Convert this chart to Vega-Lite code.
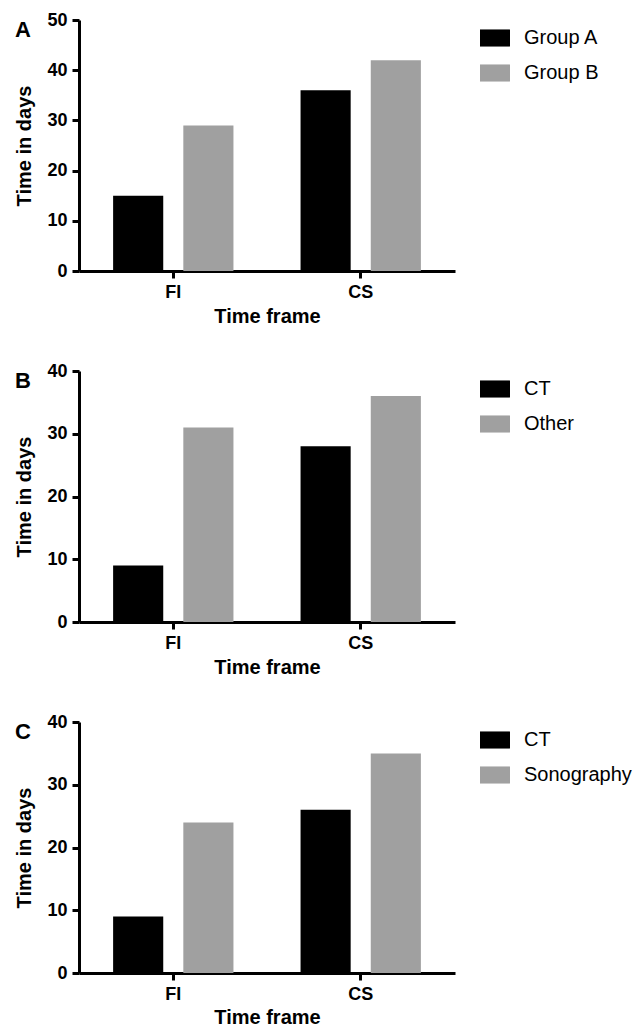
{
  "$schema": "https://vega.github.io/schema/vega-lite/v6.json",
  "padding": {"left": 14, "top": 11, "right": 5, "bottom": 3},
  "background": "white",
  "datasets": {
    "bars": [
      {"panel": "A", "frame": "FI", "group": "Group A", "days": 15},
      {"panel": "A", "frame": "FI", "group": "Group B", "days": 29},
      {"panel": "A", "frame": "CS", "group": "Group A", "days": 36},
      {"panel": "A", "frame": "CS", "group": "Group B", "days": 42},
      {"panel": "B", "frame": "FI", "group": "CT", "days": 9},
      {"panel": "B", "frame": "FI", "group": "Other", "days": 31},
      {"panel": "B", "frame": "CS", "group": "CT", "days": 28},
      {"panel": "B", "frame": "CS", "group": "Other", "days": 36},
      {"panel": "C", "frame": "FI", "group": "CT", "days": 9},
      {"panel": "C", "frame": "FI", "group": "Sonography", "days": 24},
      {"panel": "C", "frame": "CS", "group": "CT", "days": 26},
      {"panel": "C", "frame": "CS", "group": "Sonography", "days": 35}
    ]
  },
  "data": {"name": "bars"},
  "config": {
    "view": {"stroke": null},
    "font": "Liberation Sans",
    "axis": {
      "grid": false,
      "domainColor": "black",
      "domainWidth": 3,
      "tickColor": "black",
      "tickWidth": 3,
      "tickSize": 7,
      "labelFont": "Liberation Sans",
      "labelFontWeight": "bold",
      "labelFontSize": 18,
      "labelColor": "black",
      "titleFont": "Liberation Sans",
      "titleFontWeight": "bold",
      "titleFontSize": 20,
      "titleColor": "black"
    },
    "legend": {
      "orient": "right",
      "offset": 22,
      "padding": 3,
      "title": null,
      "labelFont": "Liberation Sans",
      "labelFontSize": 20,
      "labelColor": "black",
      "symbolType": "M-1,-0.57H1V0.57H-1Z",
      "symbolSize": 900,
      "symbolStrokeWidth": 0,
      "symbolOpacity": 1,
      "labelOffset": 14,
      "rowPadding": 10
    },
    "title": {
      "font": "Liberation Sans",
      "fontWeight": "bold",
      "fontSize": 22,
      "color": "black",
      "anchor": "start",
      "frame": "group",
      "offset": 0,
      "dx": -64,
      "dy": 35
    }
  },
  "spacing": 36,
  "resolve": {"scale": {"color": "independent", "y": "independent", "xOffset": "independent"}, "legend": {"color": "independent"}},
  "vconcat": [
    {
      "title": "A",
      "width": 376,
      "height": 251,
      "transform": [{"filter": "datum.panel === 'A'"}],
      "mark": {"type": "bar", "stroke": null},
      "encoding": {
        "x": {"field": "frame", "type": "nominal", "sort": ["FI", "CS"], "title": "Time frame",
              "scale": {"paddingInner": 0.358, "paddingOuter": 0.182},
              "axis": {"labelAngle": 0, "labelPadding": 5, "titlePadding": 5}},
        "xOffset": {"field": "group", "type": "nominal", "scale": {"domain": ["Group A", "Group B"], "paddingInner": 0.286}},
        "y": {"field": "days", "type": "quantitative", "title": "Time in days",
              "scale": {"domain": [0, 50], "nice": false},
              "axis": {"values": [0, 10, 20, 30, 40, 50], "labelPadding": 5, "titlePadding": 12}},
        "color": {"field": "group", "type": "nominal",
                  "scale": {"domain": ["Group A", "Group B"], "range": ["#000000", "#a0a0a0"]}}
      }
    },
    {
      "title": "B",
      "width": 376,
      "height": 251,
      "transform": [{"filter": "datum.panel === 'B'"}],
      "mark": {"type": "bar", "stroke": null},
      "encoding": {
        "x": {"field": "frame", "type": "nominal", "sort": ["FI", "CS"], "title": "Time frame",
              "scale": {"paddingInner": 0.358, "paddingOuter": 0.182},
              "axis": {"labelAngle": 0, "labelPadding": 5, "titlePadding": 5}},
        "xOffset": {"field": "group", "type": "nominal", "scale": {"domain": ["CT", "Other"], "paddingInner": 0.286}},
        "y": {"field": "days", "type": "quantitative", "title": "Time in days",
              "scale": {"domain": [0, 40], "nice": false},
              "axis": {"values": [0, 10, 20, 30, 40], "labelPadding": 5, "titlePadding": 12}},
        "color": {"field": "group", "type": "nominal",
                  "scale": {"domain": ["CT", "Other"], "range": ["#000000", "#a0a0a0"]}}
      }
    },
    {
      "title": "C",
      "width": 376,
      "height": 251,
      "transform": [{"filter": "datum.panel === 'C'"}],
      "mark": {"type": "bar", "stroke": null},
      "encoding": {
        "x": {"field": "frame", "type": "nominal", "sort": ["FI", "CS"], "title": "Time frame",
              "scale": {"paddingInner": 0.358, "paddingOuter": 0.182},
              "axis": {"labelAngle": 0, "labelPadding": 5, "titlePadding": 4}},
        "xOffset": {"field": "group", "type": "nominal", "scale": {"domain": ["CT", "Sonography"], "paddingInner": 0.286}},
        "y": {"field": "days", "type": "quantitative", "title": "Time in days",
              "scale": {"domain": [0, 40], "nice": false},
              "axis": {"values": [0, 10, 20, 30, 40], "labelPadding": 5, "titlePadding": 12}},
        "color": {"field": "group", "type": "nominal",
                  "scale": {"domain": ["CT", "Sonography"], "range": ["#000000", "#a0a0a0"]}}
      }
    }
  ]
}
